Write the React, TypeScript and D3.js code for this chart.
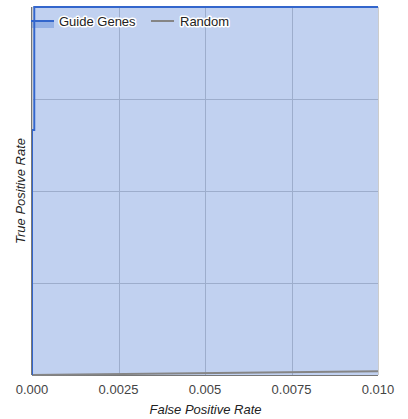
import React from "react";
import * as d3 from "d3";

// ROC curve for guide genes, zoomed to the low false-positive range
const guideFpr = [0, 0, 0.000065, 0.000065, 0.01];
const guideTpr = [0, 0.666, 0.666, 1, 1];
const randomFpr = [0, 0.01];
const randomTpr = [0, 0.01];
const xTicks = [0, 0.0025, 0.005, 0.0075, 0.01];
const xTickLabels = ["0.000", "0.0025", "0.005", "0.0075", "0.010"];
const yGrid = [0, 0.25, 0.5, 0.75, 1];
const seriesNames = ["Guide Genes", "Random"];

const W = 408;
const H = 419;
const plot = { left: 32, right: 378, top: 7, bottom: 375 };
const BLUE = "#3366cc";
const GRAY = "#858585";
const FONT = "Arial, 'Liberation Sans', sans-serif";

export default function App() {
  const x = d3.scaleLinear().domain([0, 0.01]).range([plot.left, plot.right]);
  const y = d3.scaleLinear().domain([0, 1]).range([plot.bottom, plot.top]);

  const guide = guideFpr.map((f, i) => [f, guideTpr[i]] as [number, number]);
  const random = randomFpr.map((f, i) => [f, randomTpr[i]] as [number, number]);

  const line = d3
    .line<[number, number]>()
    .x((d) => x(d[0]))
    .y((d) => y(d[1]));
  const area = d3
    .area<[number, number]>()
    .x((d) => x(d[0]))
    .y0(y(0))
    .y1((d) => y(d[1]));

  const halo = {
    stroke: "#fff",
    strokeWidth: 3,
    strokeLinejoin: "round" as const,
    paintOrder: "stroke" as const,
  };

  return (
    <svg
      width={W}
      height={H}
      style={{ position: "absolute", left: 0, top: 0, background: "#fff" }}
      fontFamily={FONT}
    >
      <defs>
        <clipPath id="plotClip">
          <rect
            x={plot.left}
            y={plot.top - 2}
            width={plot.right - plot.left + 1}
            height={plot.bottom - plot.top + 3}
          />
        </clipPath>
      </defs>

      {/* gridlines */}
      <g stroke="#cccccc" strokeWidth={1}>
        {xTicks.map((t) => (
          <line
            key={"gx" + t}
            x1={Math.round(x(t)) + 0.5}
            x2={Math.round(x(t)) + 0.5}
            y1={plot.top}
            y2={plot.bottom}
          />
        ))}
        {yGrid.map((t) => (
          <line
            key={"gy" + t}
            x1={plot.left}
            x2={plot.right}
            y1={Math.round(y(t)) + 0.5}
            y2={Math.round(y(t)) + 0.5}
          />
        ))}
      </g>

      <g clipPath="url(#plotClip)">
        {/* guide genes area */}
        <path d={area(guide) ?? ""} fill={BLUE} fillOpacity={0.3} />
      </g>

      {/* baselines */}
      <g stroke="#777" strokeWidth={1}>
        <line x1={plot.left - 0.5} x2={plot.left - 0.5} y1={plot.top} y2={plot.bottom} />
        <line x1={plot.left} x2={plot.right} y1={plot.bottom + 0.5} y2={plot.bottom + 0.5} />
      </g>

      <g clipPath="url(#plotClip)" fill="none" strokeWidth={2}>
        <path d={line(random) ?? ""} stroke={GRAY} />
        <path d={line(guide) ?? ""} stroke={BLUE} />
      </g>

      {/* legend */}
      <g fontSize={13}>
        <rect x={31} y={21} width={23} height={7} fill={BLUE} fillOpacity={0.3} />
        <line x1={31} x2={54} y1={21} y2={21} stroke={BLUE} strokeWidth={2} />
        <text x={59} y={25.5} fill="#222" {...halo}>
          {seriesNames[0]}
        </text>
        <line x1={151} x2={174} y1={21} y2={21} stroke={GRAY} strokeWidth={2} />
        <text x={180} y={25.5} fill="#222" {...halo}>
          {seriesNames[1]}
        </text>
      </g>

      {/* x tick labels */}
      <g fontSize={13} fill="#444" textAnchor="middle">
        {xTicks.map((t, i) => (
          <text key={"xt" + t} x={x(t)} y={394}>
            {xTickLabels[i]}
          </text>
        ))}
      </g>

      {/* axis titles */}
      <text
        x={(plot.left + plot.right) / 2 + 0.5}
        y={414}
        fontSize={13}
        fontStyle="italic"
        fill="#222"
        textAnchor="middle"
      >
        False Positive Rate
      </text>
      <text
        transform={`translate(25,${(plot.top + plot.bottom) / 2}) rotate(-90)`}
        fontSize={13}
        fontStyle="italic"
        fill="#222"
        textAnchor="middle"
      >
        True Positive Rate
      </text>
    </svg>
  );
}
